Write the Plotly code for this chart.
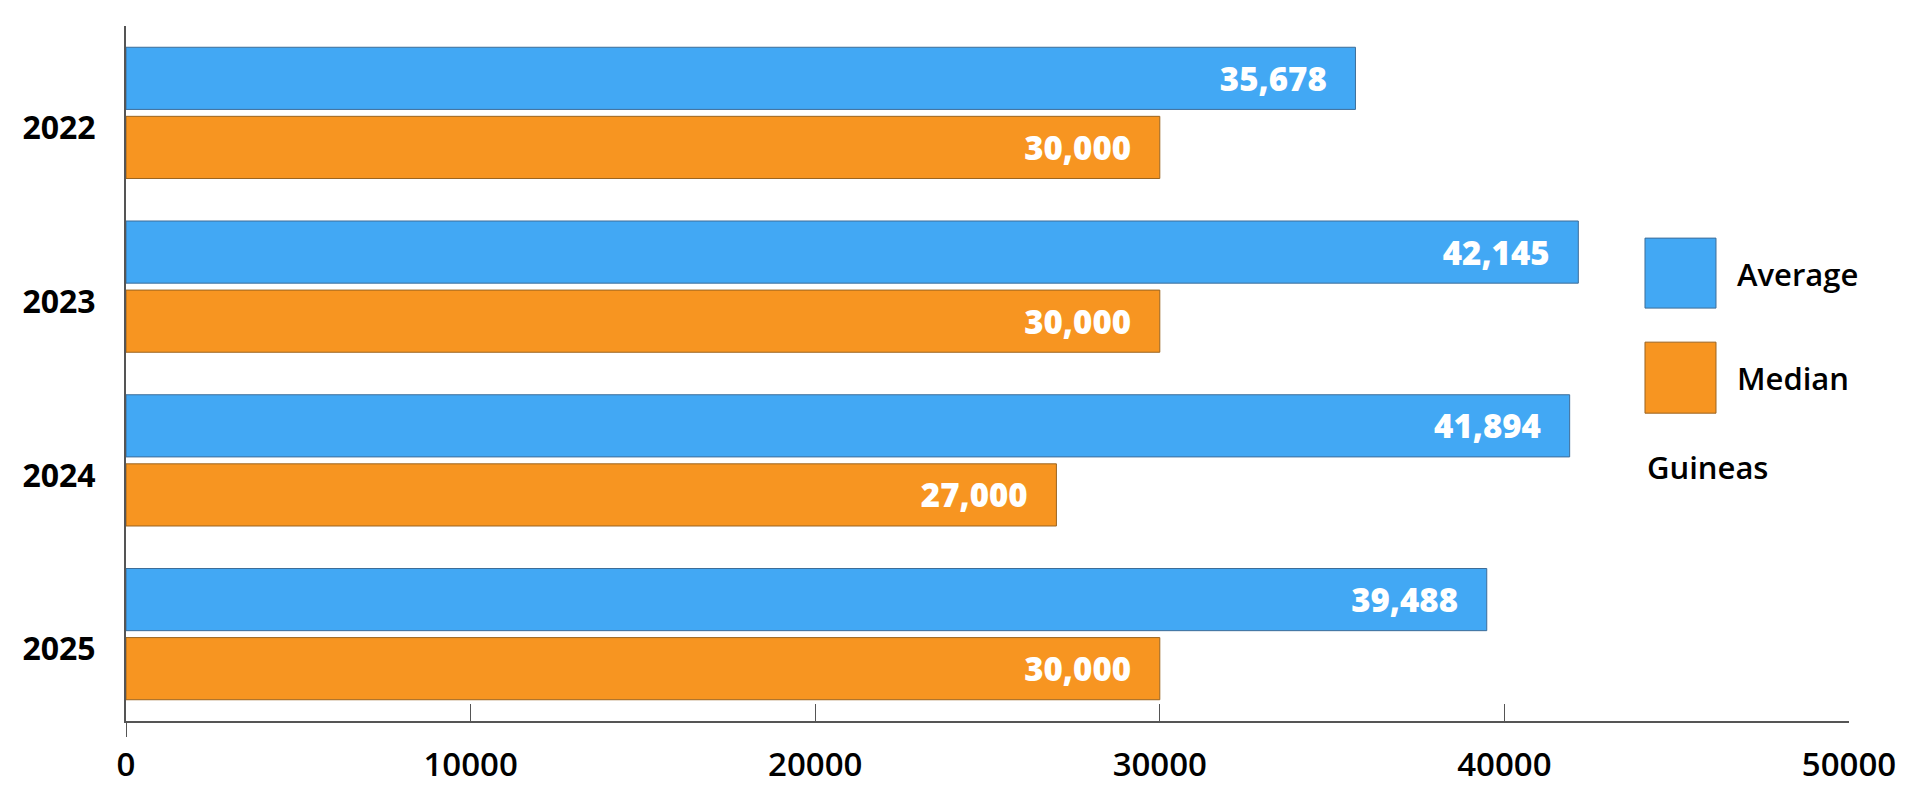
import plotly.graph_objects as go

years = ["2022", "2023", "2024", "2025"]
average_values = [35678, 42145, 41894, 39488]
median_values = [30000, 30000, 27000, 30000]
series_names = ["Average", "Median"]
x_tick_values = [0, 10000, 20000, 30000, 40000, 50000]
x_tick_labels = ["0", "10000", "20000", "30000", "40000", "50000"]
unit_label = "Guineas"

BLUE = "#42A8F4"
BLUE_EDGE = "#3d6d98"
ORANGE = "#F79521"
ORANGE_EDGE = "#9a6420"
AXIS = "#555555"
FONT = "Open Sans"
PAD = "\u00a0\u00a0\u00a0"

fig = go.Figure()
for name, vals, col, edge in [
    (series_names[0], average_values, BLUE, BLUE_EDGE),
    (series_names[1], median_values, ORANGE, ORANGE_EDGE),
]:
    fig.add_trace(go.Bar(
        name=name, y=years, x=vals, orientation="h",
        marker=dict(color=col, line=dict(color=edge, width=1)),
        texttemplate="%{x:,.0f}" + PAD,
        textposition="inside", insidetextanchor="end", textangle=0,
        insidetextfont=dict(family=FONT, size=33, color="white", weight=800),
        constraintext="none",
        hoverinfo="skip",
    ))

# page body has an 8px margin: the figure starts at (8, 8) in the window
fig.update_layout(
    width=1900, height=784,
    margin=dict(l=118, r=59, t=18, b=71),
    paper_bgcolor="white", plot_bgcolor="white",
    barmode="group", bargap=0.205, bargroupgap=0.10,
    showlegend=False,
    font=dict(family=FONT, color="black"),
)
fig.update_xaxes(
    range=[0, 50000], tickvals=x_tick_values, ticktext=x_tick_labels,
    showgrid=False, zeroline=False, automargin=False,
    showline=True, linecolor=AXIS, linewidth=1.5,
    ticks="inside", ticklen=17, tickcolor=AXIS, tickwidth=1,
    ticklabelstandoff=14,
    tickfont=dict(family=FONT, size=33, color="black", weight=600),
)
fig.update_yaxes(
    autorange="reversed", showgrid=False, zeroline=False, automargin=False,
    showline=True, linecolor=AXIS, linewidth=2,
    ticks="", ticklabelstandoff=22, ticklabelshift=-15,
    tickfont=dict(family=FONT, size=32, color="black", weight=700),
)

# small extension of the y axis below the x axis
fig.add_shape(type="line", xref="x", x0=0, x1=0, yref="paper",
              ysizemode="pixel", yanchor=0, y0=0, y1=-16,
              line=dict(color=AXIS, width=2))

# custom legend
legend_items = [
    (series_names[0], BLUE, BLUE_EDGE, 0.5941, 0.6948, 0.643),
    (series_names[1], ORANGE, ORANGE_EDGE, 0.4429, 0.5451, 0.4933),
]
for name, col, edge, y0, y1, ty in legend_items:
    fig.add_shape(type="rect", xref="paper", yref="paper",
                  x0=0.8816, x1=0.9228, y0=y0, y1=y1,
                  fillcolor=col, line=dict(color=edge, width=1))
    fig.add_annotation(xref="paper", yref="paper", x=0.9338, y=ty,
                       xanchor="left", yanchor="middle", showarrow=False,
                       text=name,
                       font=dict(family=FONT, size=31, color="black", weight=600))
fig.add_annotation(xref="paper", yref="paper", x=0.8816, y=0.366,
                   xanchor="left", yanchor="middle", showarrow=False,
                   text=unit_label,
                   font=dict(family=FONT, size=31, color="black", weight=600))

fig.write_html("out.html")
